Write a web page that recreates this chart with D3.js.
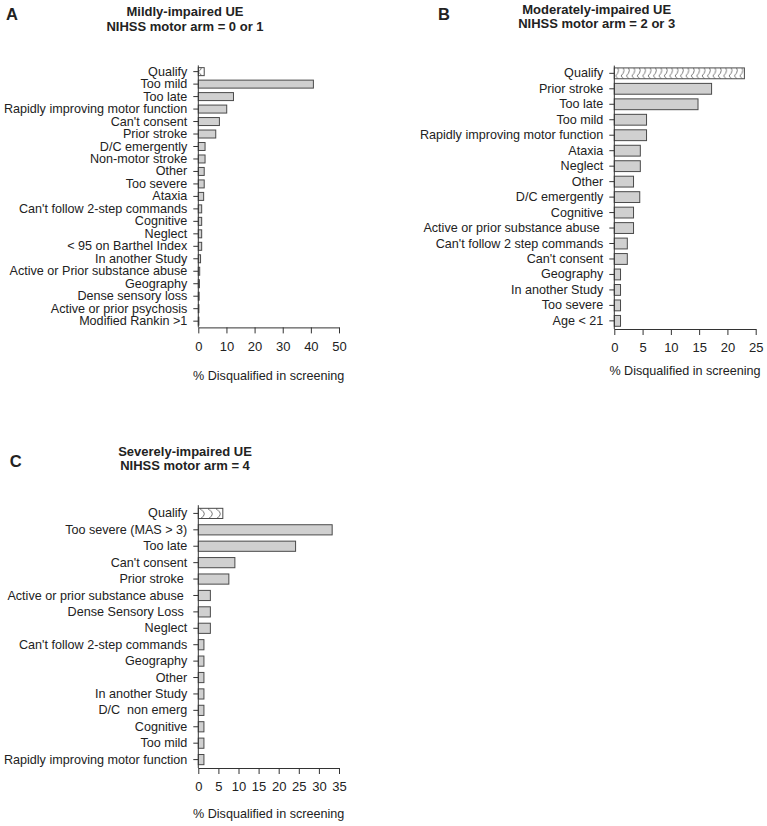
<!DOCTYPE html>
<html>
<head>
<meta charset="utf-8">
<script src="https://cdn.jsdelivr.net/npm/d3@7/dist/d3.min.js"></script>
<style>
  html, body { margin: 0; padding: 0; background: #fff; }
  svg text { font-family: "Liberation Sans", Arial, sans-serif; fill: #222; white-space: pre; }
</style>
</head>
<body>
<svg id="chart" width="767" height="826"></svg>
<script>
// ---------- DATA ----------
const categoriesA = ["Qualify", "Too mild", "Too late", "Rapidly improving motor function", "Can't consent",
  "Prior stroke", "D/C emergently", "Non-motor stroke", "Other", "Too severe", "Ataxia",
  "Can't follow 2-step commands", "Cognitive", "Neglect", "< 95 on Barthel Index", "In another Study",
  "Active or Prior substance abuse", "Geography", "Dense sensory loss", "Active or prior psychosis",
  "Modified Rankin >1"];
const valuesA = [2.1, 40.9, 12.5, 10.1, 7.5, 6.2, 2.4, 2.4, 2.1, 2.1, 1.9, 1.2, 1.2, 1.2, 1.2, 0.8, 0.5, 0.4, 0.3, 0.1, 0.05];
const ticksA = [0, 10, 20, 30, 40, 50];

const categoriesB = ["Qualify", "Prior stroke", "Too late", "Too mild", "Rapidly improving motor function",
  "Ataxia", "Neglect", "Other", "D/C emergently", "Cognitive", "Active or prior substance abuse ",
  "Can't follow 2 step commands", "Can't consent", "Geography", "In another Study", "Too severe", "Age < 21"];
const valuesB = [23.0, 17.2, 14.8, 5.7, 5.7, 4.6, 4.6, 3.4, 4.5, 3.4, 3.4, 2.3, 2.3, 1.1, 1.1, 1.1, 1.1];
const ticksB = [0, 5, 10, 15, 20, 25];

const categoriesC = ["Qualify", "Too severe (MAS > 3)", "Too late", "Can't consent", "Prior stroke ",
  "Active or prior substance abuse ", "Dense Sensory Loss ", "Neglect", "Can't follow 2-step commands",
  "Geography", "Other", "In another Study", "D/C  non emerg", "Cognitive", "Too mild",
  "Rapidly improving motor function"];
const valuesC = [6.1, 33.3, 24.2, 9.1, 7.6, 3.0, 3.0, 3.0, 1.4, 1.4, 1.4, 1.4, 1.4, 1.4, 1.4, 1.4];
const ticksC = [0, 5, 10, 15, 20, 25, 30, 35];

const titlesA = ["Mildly-impaired UE", "NIHSS motor arm = 0 or 1"];
const titlesB = ["Moderately-impaired UE", "NIHSS motor arm = 2 or 3"];
const titlesC = ["Severely-impaired UE", "NIHSS motor arm = 4"];
const axisTitle = "% Disqualified in screening";

// ---------- DRAW ----------
const svg = d3.select("#chart");
const defs = svg.append("defs");
const FS = 12.6;

// scallop pattern for "Qualify" bars
function makePattern(id, w, h) {
  const p = defs.append("pattern").attr("id", id)
    .attr("patternUnits", "userSpaceOnUse").attr("width", w).attr("height", h);
  p.append("rect").attr("width", w).attr("height", h).attr("fill", "#fff");
  p.append("path")
    .attr("d", `M0,0 Q${w * 1.1},${h / 2} 0,${h} M${w},0 Q${w * 2.1},${h / 2} ${w},${h}`)
    .attr("fill", "none").attr("stroke", "#555").attr("stroke-width", 0.8);
}

function drawPanel(cfg) {
  const g = svg.append("g");
  const x = d3.scaleLinear().domain(cfg.domain).range(cfg.xRange);
  const y = d3.scaleBand().domain(cfg.categories).range(cfg.yRange).paddingInner(cfg.pad).paddingOuter(cfg.pad / 2);
  makePattern(cfg.patId, cfg.patW, y.bandwidth());

  // bars
  g.selectAll("rect.bar").data(cfg.categories).join("rect")
    .attr("class", "bar")
    .attr("x", x(0))
    .attr("y", d => y(d))
    .attr("width", (d, i) => Math.max(0.6, x(cfg.values[i]) - x(0)))
    .attr("height", y.bandwidth())
    .attr("fill", (d, i) => i === 0 ? `url(#${cfg.patId})` : "#d0d0d0")
    .attr("stroke", "#4a4a4a")
    .attr("stroke-width", 1);

  // y axis
  const yAxis = d3.axisLeft(y).tickSize(5).tickPadding(6).tickSizeOuter(0);
  const ya = g.append("g").attr("transform", `translate(${x(0)},0)`).call(yAxis);
  ya.select(".domain").attr("stroke", "#333").attr("d", `M0,${cfg.yRange[0]}V${cfg.axisY}`);
  ya.selectAll(".tick line").attr("stroke", "#333");
  ya.selectAll(".tick text").attr("font-size", FS).attr("fill", "#222");

  // x axis
  const xAxis = d3.axisBottom(x).tickValues(cfg.ticks).tickSize(6).tickPadding(8).tickSizeOuter(0);
  const xa = g.append("g").attr("transform", `translate(0,${cfg.axisY})`).call(xAxis);
  xa.select(".domain").attr("stroke", "#333");
  xa.selectAll(".tick line").attr("stroke", "#333");
  xa.selectAll(".tick text").attr("font-size", 13).attr("fill", "#222");

  // axis title
  g.append("text")
    .attr("x", (cfg.xRange[0] + cfg.xRange[1]) / 2)
    .attr("y", cfg.axisTitleY)
    .attr("text-anchor", "middle").attr("font-size", FS)
    .text(axisTitle);

  // panel title
  cfg.titles.forEach((t, i) => {
    g.append("text")
      .attr("x", cfg.titleX).attr("y", cfg.titleY + i * 14.6)
      .attr("text-anchor", "middle").attr("font-size", 13).attr("font-weight", "bold")
      .text(t);
  });

  // panel letter
  g.append("text")
    .attr("x", cfg.letterX).attr("y", cfg.letterY)
    .attr("text-anchor", "middle").attr("font-size", 16.5).attr("font-weight", "bold")
    .text(cfg.letter);
}

drawPanel({
  categories: categoriesA, values: valuesA, ticks: ticksA, domain: [0, 50], titles: titlesA,
  xRange: [198.3, 339], yRange: [65.4, 327.4], pad: 0.36, axisY: 327.4,
  axisTitleY: 379.5, titleX: 185, titleY: 16, letter: "A", letterX: 12, letterY: 20,
  patId: "patA", patW: 6
});
drawPanel({
  categories: categoriesB, values: valuesB, ticks: ticksB, domain: [0, 25], titles: titlesB,
  xRange: [614.3, 755.7], yRange: [65.6, 328.6], pad: 0.3, axisY: 329,
  axisTitleY: 374.5, titleX: 596.7, titleY: 13.8, letter: "B", letterX: 444, letterY: 20,
  patId: "patB", patW: 5.4
});
drawPanel({
  categories: categoriesC, values: valuesC, ticks: ticksC, domain: [0, 35], titles: titlesC,
  xRange: [198.3, 339], yRange: [505.2, 767.8], pad: 0.38, axisY: 768,
  axisTitleY: 817.5, titleX: 185, titleY: 455.5, letter: "C", letterX: 15.7, letterY: 467,
  patId: "patC", patW: 8
});
</script>
</body>
</html>
